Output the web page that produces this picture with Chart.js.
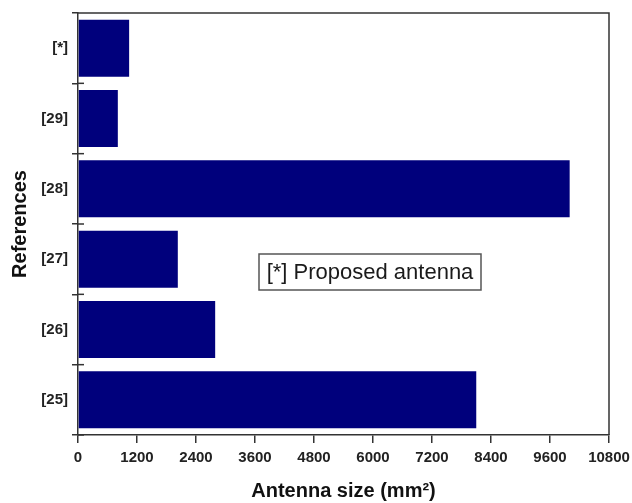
<!DOCTYPE html>
<html>
<head>
<meta charset="utf-8">
<script src="https://cdn.jsdelivr.net/npm/chart.js@4/dist/chart.umd.min.js"></script>
<style>
html,body{margin:0;padding:0;background:#fff;}
#wrap{width:632px;height:503px;position:relative;}
</style>
</head>
<body>
<div id="wrap"><canvas id="c" width="632" height="503"></canvas></div>
<script>
const categories = ['[*]', '[29]', '[28]', '[27]', '[26]', '[25]'];
const antennaSize = [1040, 810, 10000, 2030, 2790, 8100];
const xTickMin = 0;
const xTickMax = 10800;
const xTickStep = 1200;
const legendNote = '[*] Proposed antenna';

const axisColor = '#333333';

const framePlugin = {
  id: 'frame',
  afterDraw(chart) {
    const ctx = chart.ctx;
    const a = chart.chartArea;
    const y = chart.scales.y;
    ctx.save();
    ctx.strokeStyle = axisColor;
    ctx.lineWidth = 1.5;
    ctx.beginPath();
    ctx.moveTo(a.left, a.top);
    ctx.lineTo(a.right, a.top);
    ctx.lineTo(a.right, a.bottom);
    ctx.stroke();
    const n = categories.length;
    for (let i = 1; i <= n; i++) {
      const py = y.getPixelForValue(i - 0.5);
      ctx.beginPath();
      ctx.moveTo(a.left, py);
      ctx.lineTo(a.left + 6, py);
      ctx.stroke();
    }
    ctx.lineWidth = 1.5;
    ctx.strokeStyle = '#555555';
    ctx.strokeRect(259, 254, 222, 36);
    ctx.fillStyle = '#1a1a1a';
    ctx.font = '22px "Liberation Sans", Arial, sans-serif';
    ctx.textAlign = 'center';
    ctx.textBaseline = 'middle';
    ctx.fillText(legendNote, 370, 273);
    ctx.restore();
  }
};

new Chart(document.getElementById('c'), {
  type: 'bar',
  data: {
    labels: categories,
    datasets: [{
      data: antennaSize,
      backgroundColor: '#00007c',
      borderWidth: 0,
      barPercentage: 0.81,
      categoryPercentage: 1.0
    }]
  },
  options: {
    indexAxis: 'y',
    responsive: false,
    animation: false,
    layout: { padding: { left: 0, top: 13, right: 23, bottom: 0 } },
    plugins: {
      legend: { display: false },
      tooltip: { enabled: false }
    },
    scales: {
      x: {
        type: 'linear',
        min: xTickMin,
        max: xTickMax,
        afterFit(s) { s.height = 68; s.paddingRight = 0; s.paddingLeft = 0; },
        ticks: {
          stepSize: xTickStep,
          autoSkip: false,
          maxRotation: 0,
          padding: 6,
          color: '#222222',
          callback: (v) => String(v),
          font: { family: '"Liberation Sans", Arial, sans-serif', size: 15, weight: 'bold' }
        },
        grid: { drawOnChartArea: false, drawTicks: true, tickLength: 8, color: axisColor, lineWidth: 1.5 },
        border: { display: true, color: axisColor, width: 1.5 },
        title: {
          display: true,
          text: 'Antenna size (mm²)',
          color: '#111111',
          padding: { top: 0, bottom: 0 },
          font: { family: '"Liberation Sans", Arial, sans-serif', size: 20, weight: 'bold' }
        }
      },
      y: {
        type: 'category',
        afterFit(s) { s.width = 78; s.paddingTop = 0; s.paddingBottom = 0; },
        ticks: {
          padding: 4,
          color: '#222222',
          font: { family: '"Liberation Sans", Arial, sans-serif', size: 15, weight: 'bold' }
        },
        grid: { offset: true, drawOnChartArea: false, drawTicks: true, tickLength: 6, color: axisColor, lineWidth: 1.5 },
        border: { display: true, color: axisColor, width: 1.5 },
        title: {
          display: true,
          text: 'References',
          color: '#111111',
          padding: { top: 8, bottom: 0 },
          font: { family: '"Liberation Sans", Arial, sans-serif', size: 20, weight: 'bold' }
        }
      }
    }
  },
  plugins: [framePlugin]
});
</script>
</body>
</html>
